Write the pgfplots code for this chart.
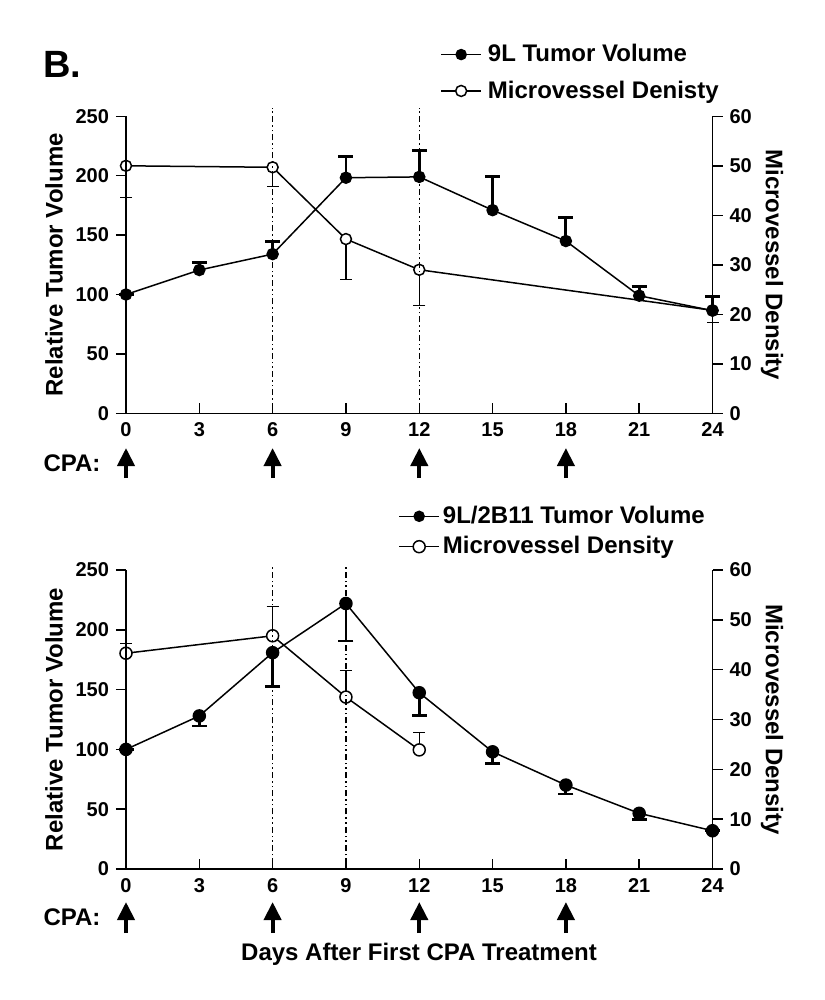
\documentclass[border=0pt]{standalone}
\usepackage{fontspec}
\setmainfont{Liberation Sans}
\usepackage{pgfplots}
\usepackage{pgfplotstable}
\pgfplotsset{compat=1.18}
\usetikzlibrary{arrows.meta}

% top panel: 9L
\pgfplotstableread{
d v e
0 100 0
3 120.6 6.5
6 134 10.5
9 198.3 18
12 199 22
15 171 28
18 145 20
21 99 7.5
24 86.4 12
}\tumA
\pgfplotstableread{
d v e
0 50.0 6.4
6 49.7 3.9
9 35.2 8.1
12 29.0 7.3
24 20.8 2.5
}\mvdA
% bottom panel: 9L/2B11
\pgfplotstableread{
d v e
0 100 0
3 128 8.4
6 180.9 28.5
9 222 31.4
12 147.4 19.2
15 98 9.6
18 70.2 7.5
21 46.6 5.1
24 32 0
}\tumB
\pgfplotstableread{
d v e
0 43.3 1.9
6 46.8 5.9
9 34.5 5.3
12 23.9 3.5
}\mvdB

\tikzset{vline/.style={black, line width=0.6pt, dash pattern=on 3pt off 1.5pt on 0.8pt off 1.5pt on 0.8pt off 1.5pt}}

\pgfplotsset{
  base/.style={
    scale only axis, width=293.25pt,
    xmin=0, xmax=24, xtick={0,3,6,9,12,15,18,21,24},
    xticklabels={0,3,6,9,12,15,18,21,24},
    tick label style={font=\fontsize{10}{12}\selectfont\bfseries},
    xticklabel style={anchor=north, yshift=-1pt, text height=7.3pt, text depth=0pt},
    /pgf/number format/assume math mode=true,
    label style={font=\fontsize{12}{14}\selectfont\bfseries},
    axis line style={line width=0.75pt},
    major tick style={line width=0.75pt, black},
    major tick length=5pt,
    xtick align=inside, ytick align=outside,
    clip=false,
  },
  leftax/.style={base, axis x line*=bottom, axis y line*=left,
    ymin=0, ymax=250, ytick={0,50,...,250},
    ylabel={Relative Tumor Volume},
    ylabel style={at={(axis description cs:-0.1228,0.5)}, anchor=center},
  },
  rightax/.style={base, axis x line=none, axis y line*=right,
    ymin=0, ymax=60, ytick={0,10,...,60},
    ylabel={Microvessel Density},
    ylabel style={at={(axis description cs:1.1015,0.5)}, anchor=center, rotate=180},
    legend cell align=left,
    legend image code/.code={\draw[mark repeat=2,mark phase=2,##1] plot coordinates {(0pt,0pt) (10pt,0pt) (20pt,0pt)};},
  },
  tum/.style={black, line width=0.75pt, mark=*, mark size=#1},
  mvd/.style={black, line width=0.75pt, mark=*, mark size=#1, mark options={fill=white}},
  errthick/.style={only marks, mark=*, mark size=0.1pt, forget plot,
    error bars/.cd, y dir=#1, y explicit, error mark=-,
    error bar style={black, line width=1.4pt},
    error mark options={rotate=90, black, line width=1.4pt, mark size=3.75pt}},
  errthin/.style={only marks, mark=*, mark size=0.1pt, forget plot,
    error bars/.cd, y dir=#1, y explicit, error mark=-,
    error bar style={black, line width=0.6pt},
    error mark options={rotate=90, black, line width=0.6pt, mark size=3pt}},
}

\begin{document}
\begin{tikzpicture}
\useasboundingbox (0,0) rectangle (412pt,-500pt);

% ---------- top panel ----------
\begin{axis}[rightax, height=148.5pt, at={(63pt,-206.65pt)}, anchor=south west,
  legend style={draw=none, fill=none, at={(0.5354,1.1466)}, anchor=west,
    inner sep=0pt, row sep=8pt, nodes={inner xsep=3pt, inner ysep=0pt},
    font=\fontsize{12}{14}\selectfont\bfseries}]
  \addlegendimage{tum=2.5pt}
  \addlegendentry{9L Tumor Volume}
  \addplot[errthin=minus] table[x=d, y=v, y error=e] {\mvdA};
  \addplot[mvd=2.75pt] table[x=d, y=v] {\mvdA};
  \addlegendentry{Microvessel Denisty}
\end{axis}
\begin{axis}[leftax, height=148.5pt, at={(63pt,-206.65pt)}, anchor=south west]
  \draw[vline] (axis cs:6,0) -- (axis cs:6,257);
  \draw[vline] (axis cs:12,0) -- (axis cs:12,257);
  \addplot[errthick=plus] table[x=d, y=v, y error=e] {\tumA};
  \addplot[tum=2.75pt] table[x=d, y=v] {\tumA};
\end{axis}

% ---------- bottom panel ----------
\begin{axis}[rightax, height=149.5pt, at={(63pt,-434.5pt)}, anchor=south west,
  legend style={draw=none, fill=none, at={(0.4638,1.1288)}, anchor=west,
    inner sep=0pt, row sep=5pt, nodes={inner xsep=1.5pt, inner ysep=0pt},
    font=\fontsize{12}{14}\selectfont\bfseries}]
  \addlegendimage{tum=2.5pt}
  \addlegendentry{9L/2B11 Tumor Volume}
  \addplot[errthin=plus] table[x=d, y=v, y error=e] {\mvdB};
  \addplot[mvd=3pt] table[x=d, y=v] {\mvdB};
  \addlegendentry{Microvessel Density}
\end{axis}
\begin{axis}[leftax, height=149.5pt, at={(63pt,-434.5pt)}, anchor=south west]
  \draw[vline] (axis cs:6,0) -- (axis cs:6,252.5);
  \draw[vline] (axis cs:9,0) -- (axis cs:9,252.5);
  \addplot[errthick=minus] table[x=d, y=v, y error=e] {\tumB};
  \addplot[tum=3pt] table[x=d, y=v] {\tumB};
\end{axis}

% ---------- annotations (pixel units) ----------
\begin{scope}[x=0.5pt, y=-0.5pt, font=\fontsize{12}{14}\selectfont\bfseries]
  \node[anchor=base west, font=\fontsize{19}{22}\selectfont\bfseries, inner sep=0pt] at (43,78) {B.};
  \node at (72,463) {CPA:};
  \node at (72,917) {CPA:};
  \foreach \xx in {126,272.6,419.3,565.9} {
    \draw[line width=2pt, -{Triangle[length=9pt, width=8.5pt]}] (\xx,478) -- (\xx,448);
    \draw[line width=2pt, -{Triangle[length=9pt, width=8.5pt]}] (\xx,933) -- (\xx,902);
  }
  \node at (419,954) {Days After First CPA Treatment};
\end{scope}
\end{tikzpicture}
\end{document}
